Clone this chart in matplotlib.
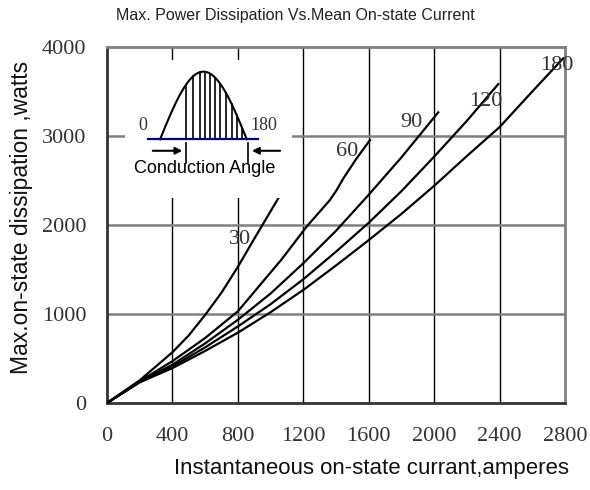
import numpy as np
import matplotlib.pyplot as plt

# curves: current (A) -> power (W), one per conduction angle
angles = ['30', '60', '90', '120', '180']
i30 = [0, 200, 400, 500, 600, 700, 800, 900, 1047]
p30 = [0, 255, 570, 760, 990, 1240, 1530, 1845, 2300]
i60 = [0, 200, 400, 600, 800, 1068, 1220, 1363, 1404, 1445, 1526, 1608]
p60 = [0, 245, 470, 730, 1030, 1615, 1981, 2281, 2393, 2524, 2749, 2955]
i90 = [0, 200, 400, 600, 800, 1000, 1200, 1400, 1600, 1800, 2025]
p90 = [0, 240, 430, 670, 935, 1230, 1570, 1935, 2340, 2760, 3266]
i120 = [0, 200, 400, 600, 800, 1000, 1200, 1400, 1600, 1800, 2000, 2200, 2392]
p120 = [0, 235, 410, 625, 860, 1110, 1390, 1700, 2025, 2380, 2768, 3170, 3584]
i180 = [0, 200, 400, 600, 800, 1000, 1200, 1400, 1600, 1800, 2000, 2200, 2400, 2600, 2789]
p180 = [0, 232, 392, 585, 790, 1020, 1270, 1545, 1830, 2125, 2440, 2775, 3100, 3500, 3873]
label_pos = [(813, 1839), (1465, 2824), (1862, 3150), (2317, 3385), (2751, 3798)]

xticks = [0, 400, 800, 1200, 1600, 2000, 2400, 2800]
yticks = [0, 1000, 2000, 3000, 4000]

# inset sketch (degrees / normalised amplitude)
hatch_deg = [54, 69, 83, 93, 104, 114, 125, 137, 149, 159, 170, 180]

serif = 'Liberation Serif'
sans = ['Liberation Sans', 'DejaVu Sans']

fig = plt.figure(figsize=(5.9, 4.9), dpi=100)
ax = fig.add_axes([0.1814, 0.1776, 0.7762, 0.7264])

curves = [(i30, p30), (i60, p60), (i90, p90), (i120, p120), (i180, p180)]
for (xs, ys), name, pos in zip(curves, angles, label_pos):
    ax.plot(xs, ys, color='black', lw=1.6, zorder=3)
    ax.text(pos[0], pos[1], name, fontsize=16, family=serif, ha='center', va='center',
            color='#333333', zorder=4)

ax.set_xlim(0, 2800)
ax.set_ylim(0, 4000)
ax.set_xticks(xticks)
ax.set_yticks(yticks)
ax.tick_params(length=0, labelsize=16)
ax.tick_params(axis='x', pad=17)
ax.tick_params(axis='y', pad=15)
for lab in ax.get_xticklabels() + ax.get_yticklabels():
    lab.set_family(serif)
    lab.set_color('#333333')

for x in xticks[1:-1]:
    ax.axvline(x, color='black', lw=1.0, zorder=1)
for y in yticks[1:-1]:
    ax.axhline(y, color='#808080', lw=1.8, zorder=1)
for side in ['top', 'right']:
    ax.spines[side].set_color('#808080')
    ax.spines[side].set_linewidth(2)
for side in ['left', 'bottom']:
    ax.spines[side].set_color('#333333')
    ax.spines[side].set_linewidth(2)

fig.text(0.5, 0.968, 'Max. Power Dissipation Vs.Mean On-state Current', ha='center', va='center',
         fontsize=11.5, family=sans, color='#222222')
fig.text(0.629, 0.043, 'Instantaneous on-state currant,amperes', ha='center', va='center',
         fontsize=16, family=sans, color='#111111')
fig.text(0.037, 0.556, 'Max.on-state dissipation ,watts', ha='center', va='center', rotation=90,
         fontsize=16.5, family=sans, color='#111111')

# inset: conduction angle sketch
ins = fig.add_axes([0.212, 0.596, 0.283, 0.2816])
ins.set_zorder(5)
ins.set_xlim(-72.7, 274)
ins.set_ylim(-0.868, 1.173)
ins.axis('off')
ins.add_patch(plt.Rectangle((0, 0), 1, 1, transform=ins.transAxes, color='white', zorder=0))
deg = np.linspace(0, 180, 100)
ins.plot(deg, np.sin(np.radians(deg)), color='black', lw=1.5)
for d in hatch_deg:
    ins.plot([d, d], [0, np.sin(np.radians(d))], color='black', lw=1.2)
ins.plot([-25, 203.5], [0, 0], color='#000080', lw=1.6)
ins.text(-36, 0.2, '0', fontsize=13, family=serif, ha='center', va='center', color='#333333')
ins.text(215, 0.2, '180', fontsize=13, family=serif, ha='center', va='center', color='#333333')
ins.annotate('', xy=(52, -0.17), xytext=(-21, -0.17),
             arrowprops=dict(arrowstyle='-|>', color='black', lw=1.5, mutation_scale=10))
ins.annotate('', xy=(185, -0.17), xytext=(255, -0.17),
             arrowprops=dict(arrowstyle='-|>', color='black', lw=1.5, mutation_scale=10))
ins.plot([54, 54], [-0.05, -0.35], color='black', lw=1.2)
ins.plot([183, 183], [-0.05, -0.35], color='black', lw=1.2)
ins.text(93, -0.43, 'Conduction Angle', fontsize=13, family=sans, ha='center', va='center')

fig.savefig('out.png', dpi=100)
